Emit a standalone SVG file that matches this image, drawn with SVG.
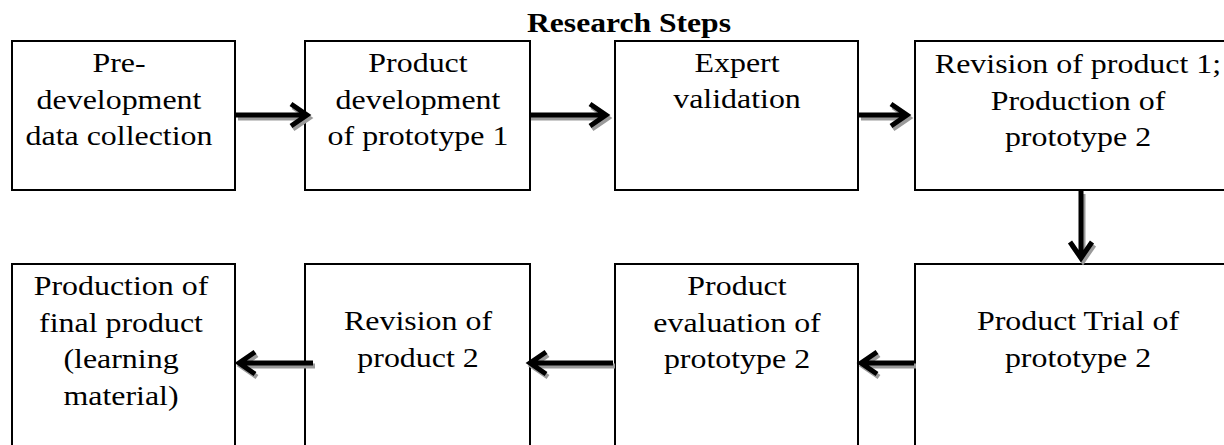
<svg xmlns="http://www.w3.org/2000/svg" width="1224" height="445" viewBox="0 0 1224 445">
<style>
.box{fill:#fff;stroke:#000;stroke-width:2}
.t{font-family:"Liberation Serif","Times New Roman",serif;font-size:28px;fill:#000;text-anchor:middle}
.title{font-family:"Liberation Serif","Times New Roman",serif;font-size:27.5px;font-weight:bold;fill:#000;text-anchor:middle}
.arr{fill:none;stroke:#000;stroke-width:5;stroke-linejoin:miter;stroke-miterlimit:6}
.sh{fill:none;stroke:#9a9a9a;stroke-width:5;stroke-linejoin:miter;stroke-miterlimit:6}
</style>
<rect width="1224" height="445" fill="#fff"/>
<g transform="translate(629,0) scale(1.15,1)"><text class="title" x="0" y="32">Research Steps</text></g>
<g id="n1"><rect class="box" x="12" y="41" width="223" height="149"/>
<g transform="translate(119,0) scale(1.14,1)"><text class="t" x="0" y="72">Pre-</text><text class="t" x="0" y="109">development</text><text class="t" x="0" y="145">data collection</text></g></g>
<g id="n2"><rect class="box" x="305" y="41" width="225" height="149"/>
<g transform="translate(418,0) scale(1.14,1)"><text class="t" x="0" y="72">Product</text><text class="t" x="0" y="109">development</text><text class="t" x="0" y="145">of prototype 1</text></g></g>
<g id="n3"><rect class="box" x="615" y="41" width="243" height="149"/>
<g transform="translate(737,0) scale(1.14,1)"><text class="t" x="0" y="72">Expert</text><text class="t" x="0" y="108">validation</text></g></g>
<g id="n4"><rect class="box" x="915" y="41" width="325" height="149"/>
<g transform="translate(1078,0) scale(1.14,1)"><text class="t" x="0" y="73">Revision of product 1;</text><text class="t" x="0" y="110">Production of</text><text class="t" x="0" y="146">prototype 2</text></g></g>
<g id="n5"><rect class="box" x="12" y="264" width="223" height="200"/>
<g transform="translate(121,0) scale(1.14,1)"><text class="t" x="0" y="295">Production of</text><text class="t" x="0" y="332">final product</text><text class="t" x="0" y="368">(learning</text><text class="t" x="0" y="405">material)</text></g></g>
<g id="n6"><rect class="box" x="305" y="264" width="225" height="200"/>
<g transform="translate(418,0) scale(1.14,1)"><text class="t" x="0" y="330">Revision of</text><text class="t" x="0" y="367">product 2</text></g></g>
<g id="n7"><rect class="box" x="615" y="264" width="243" height="200"/>
<g transform="translate(737,0) scale(1.14,1)"><text class="t" x="0" y="295">Product</text><text class="t" x="0" y="332">evaluation of</text><text class="t" x="0" y="368">prototype 2</text></g></g>
<g id="n8"><rect class="box" x="915" y="264" width="325" height="200"/>
<g transform="translate(1078,0) scale(1.14,1)"><text class="t" x="0" y="330">Product Trial of</text><text class="t" x="0" y="367">prototype 2</text></g></g>
<g id="connectors">
<g transform="translate(2,3)" class="sh">
<path d="M236,115 H305 M291,104 L307,115 L291,126"/>
<path d="M529,115 H604 M590,104 L606,115 L590,126"/>
<path d="M859,115 H905 M891,104 L907,115 L891,126"/>
<path d="M1081,191 V256 M1070,242 L1081,258 L1092,242"/>
<path d="M914,363 H863 M877,352 L861,363 L877,374"/>
<path d="M613,363 H532 M546,352 L530,363 L546,374"/>
<path d="M313,363 H241 M255,352 L239,363 L255,374"/>
</g>
<g class="arr">
<path d="M236,115 H305 M291,104 L307,115 L291,126"/>
<path d="M529,115 H604 M590,104 L606,115 L590,126"/>
<path d="M859,115 H905 M891,104 L907,115 L891,126"/>
<path d="M1081,191 V256 M1070,242 L1081,258 L1092,242"/>
<path d="M914,363 H863 M877,352 L861,363 L877,374"/>
<path d="M613,363 H532 M546,352 L530,363 L546,374"/>
<path d="M313,363 H241 M255,352 L239,363 L255,374"/>
</g>
</g>
</svg>
